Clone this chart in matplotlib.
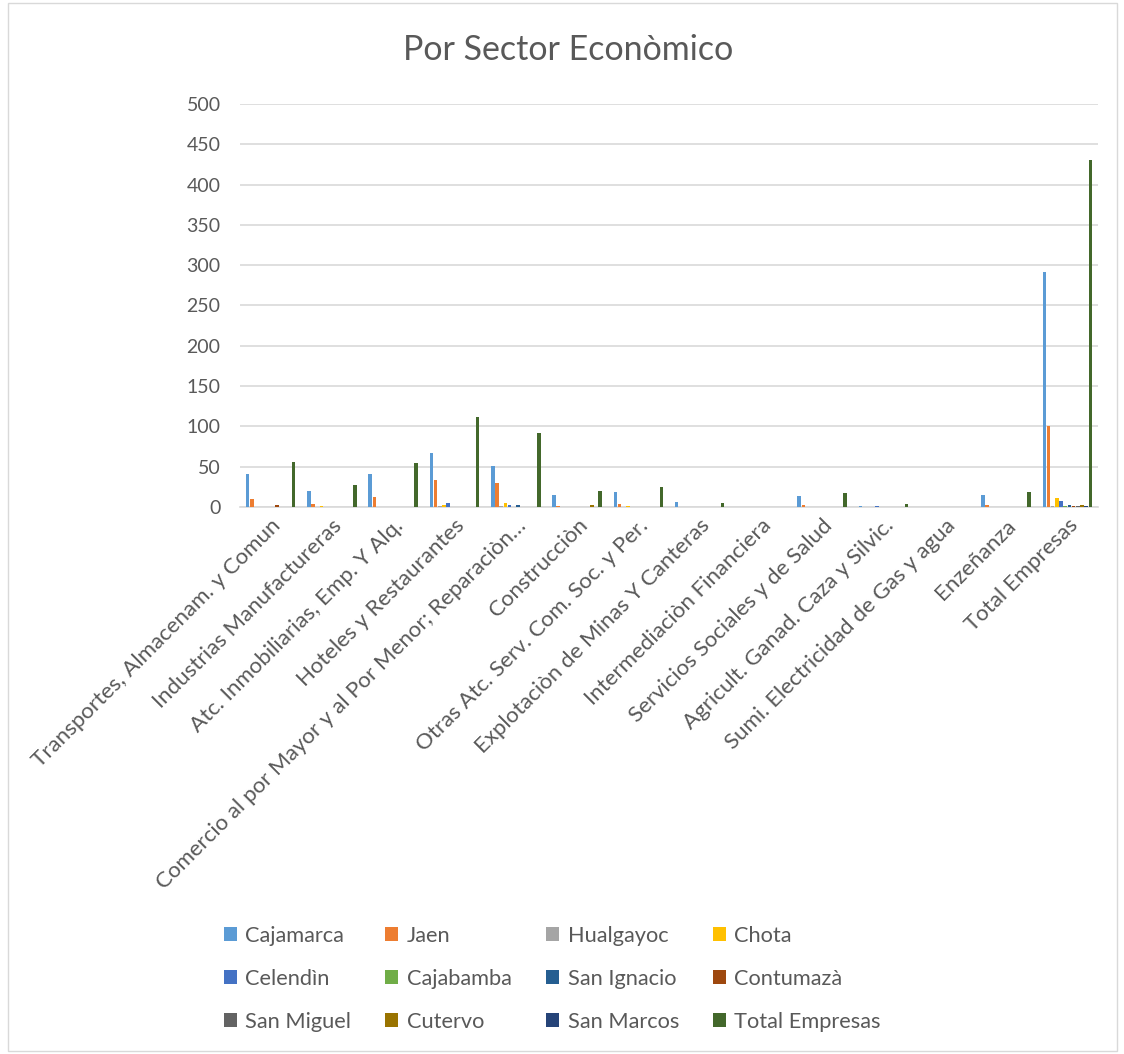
import matplotlib
matplotlib.use("Agg")
import matplotlib.pyplot as plt
from matplotlib.patches import Rectangle, Patch
import numpy as np

plt.rcParams['font.family'] = ['Lato', 'DejaVu Sans']

categories = [
    "Transportes, Almacenam. y Comun",
    "Industrias Manufactureras",
    "Atc. Inmobiliarias, Emp. Y Alq.",
    "Hoteles y Restaurantes",
    "Comercio al por Mayor y al Por Menor; Reparaciòn…",
    "Construcciòn",
    "Otras Atc. Serv. Com. Soc. y Per.",
    "Explotaciòn de Minas Y Canteras",
    "Intermediaciòn Financiera",
    "Servicios Sociales y de Salud",
    "Agricult. Ganad. Caza y Silvic.",
    "Sumi. Electricidad de Gas y agua",
    "Enzeñanza",
    "Total Empresas",
]

series_names = ["Cajamarca", "Jaen", "Hualgayoc", "Chota", "Celendìn", "Cajabamba",
                "San Ignacio", "Contumazà", "San Miguel", "Cutervo", "San Marcos",
                "Total Empresas"]

cajamarca   = [41, 20, 41, 67, 51, 15, 19, 6, 0, 14, 1, 0, 15, 291]
jaen        = [10, 4, 12, 33, 30, 1, 4, 0, 0, 2.5, 0, 0, 2.5, 101]
hualgayoc   = [0, 0, 0, 1, 1, 0, 0, 0, 0, 0, 0, 0, 0, 1]
chota       = [0, 1, 0, 3, 5, 0, 1, 0, 0, 0, 0, 0, 0, 11]
celendin    = [0, 0, 0, 5, 2, 0, 0, 0, 0, 0, 1, 0, 0, 8]
cajabamba   = [0, 0, 0, 0, 0, 0, 0, 0, 0, 0, 0, 0, 0, 1]
san_ignacio = [0, 0, 0, 0, 3, 0, 0, 0, 0, 0, 0, 0, 0, 3]
contumaza   = [2, 0, 0, 0, 0, 0, 0, 0, 0, 0, 0, 0, 0, 1.5]
san_miguel  = [0, 0, 0, 0, 0, 0, 0, 0, 0, 0, 0, 0, 0, 1.5]
cutervo     = [0, 0, 0, 0, 0, 2, 0, 0, 0, 0, 0, 0, 0, 2]
san_marcos  = [0, 0, 0, 0, 0, 0, 0, 0, 0, 0, 0, 0, 0, 1]
total_emp   = [56, 27, 54, 112, 92, 20, 25, 5, 0, 17, 4, 0, 18, 430]

values = [cajamarca, jaen, hualgayoc, chota, celendin, cajabamba, san_ignacio,
          contumaza, san_miguel, cutervo, san_marcos, total_emp]

colors = ["#5B9BD5", "#ED7D31", "#A5A5A5", "#FFC000", "#4472C4", "#70AD47",
          "#255E91", "#9E480E", "#636363", "#997300", "#264478", "#43682B"]

yticks = list(range(0, 501, 50))

W, H = 1124, 1054
fig = plt.figure(figsize=(W / 100, H / 100), dpi=100)
ax = fig.add_axes([240 / W, 1 - 507 / H, (1098 - 240) / W, (507 - 104) / H])

n = len(series_names)
x = np.arange(len(categories))
bw = 0.82 / n
handles = []
for i, (name, vals, c) in enumerate(zip(series_names, values, colors)):
    off = (i - (n - 1) / 2) * bw
    ax.bar(x + off, vals, width=bw * 0.85, color=c, linewidth=0, zorder=3)
    handles.append(Patch(facecolor=c, label=name))

ax.set_xlim(-0.5, len(categories) - 0.5)
ax.set_ylim(0, 500)
ax.set_yticks(yticks)
ax.yaxis.grid(True, color="#D9D9D9", linewidth=1.2, zorder=0)
for s in ["top", "right", "left"]:
    ax.spines[s].set_visible(False)
ax.spines["bottom"].set_color("#D9D9D9")
ax.spines["bottom"].set_linewidth(1.2)
ax.tick_params(axis="y", length=0, labelsize=14, colors="#595959", pad=14)
ax.tick_params(axis="x", length=0, colors="#595959", pad=6)
ax.set_xticks(x)
ax.set_xticklabels(categories, rotation=45, ha="right", va="top",
                   rotation_mode="anchor", fontsize=16, color="#595959")

fig.text(568 / W, 1 - 50 / H, "Por Sector Econòmico", ha="center", va="center",
         fontsize=24.5, color="#595959")

order = [0, 4, 8, 1, 5, 9, 2, 6, 10, 3, 7, 11]
leg = fig.legend([handles[i] for i in order], [series_names[i] for i in order],
                 ncol=4, loc="center left", bbox_to_anchor=(204 / W, 1 - 979 / H),
                 frameon=False, fontsize=15.7, labelcolor="#595959",
                 handlelength=0.6, handleheight=0.6, handletextpad=0.4,
                 columnspacing=1.55, labelspacing=1.05)

fig.patches.append(Rectangle((8 / W, 3 / H), (1117 - 8) / W, 1 - 6 / H,
                             transform=fig.transFigure, fill=False,
                             edgecolor="#D9D9D9", linewidth=1))

fig.savefig("out.png", dpi=100, facecolor="white")
